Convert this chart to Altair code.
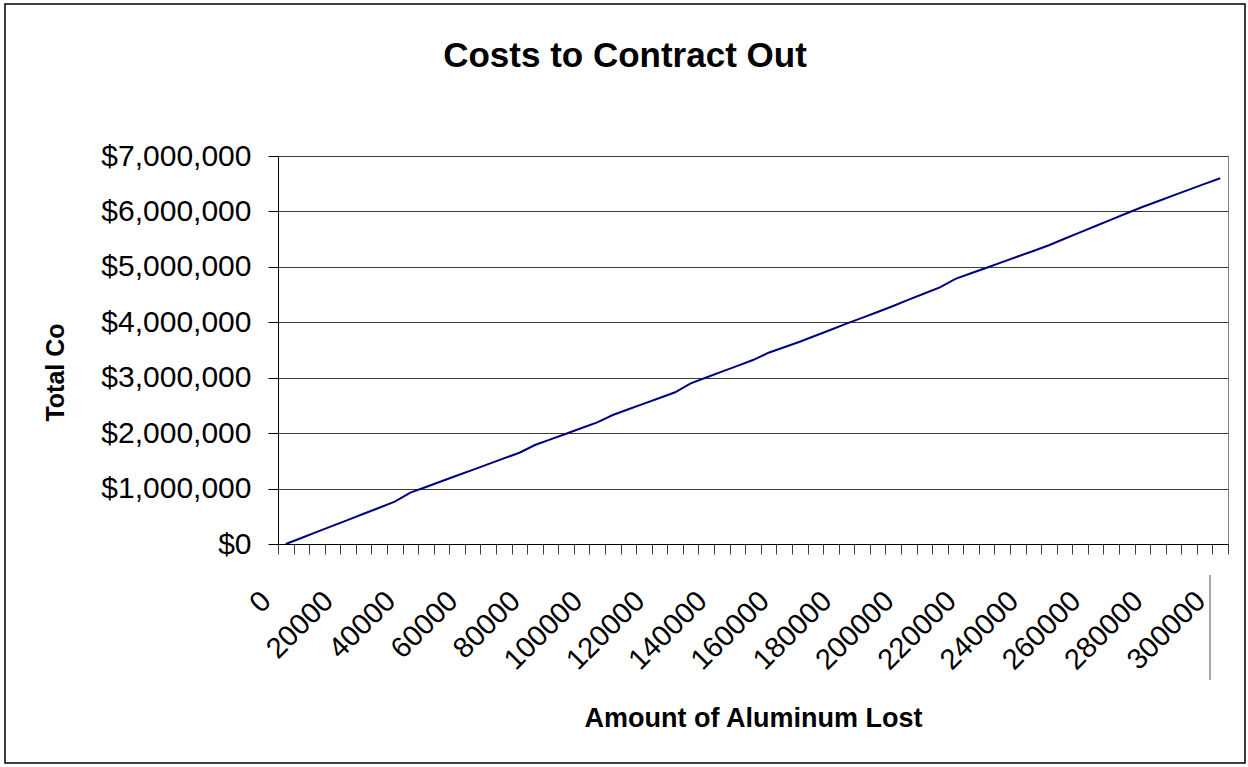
import altair as alt
import pandas as pd

# Amount of aluminum lost (categories, every 5,000 units)
amounts = list(range(0, 300001, 5000))

# Total cost to contract out for each amount, in dollars
costs = [
    0, 109000, 218000, 327000, 436000, 545000, 654000, 763000, 926000, 1029000,
    1132000, 1235000, 1338000, 1441000, 1544000, 1647000, 1786000, 1888000, 1990000, 2092000,
    2194000, 2327000, 2430000, 2532000, 2635000, 2737000, 2899000, 3004000, 3109000, 3214000,
    3319000, 3451000, 3550000, 3648000, 3757000, 3866000, 3975000, 4080000, 4186000, 4293000,
    4410000, 4520000, 4631000, 4783000, 4884000, 4985000, 5086000, 5187000, 5287000, 5390000,
    5507000, 5622000, 5737000, 5852000, 5967000, 6080000, 6184000, 6289000, 6393000, 6496000,
    6598000,
]

y_ticks = [0, 1000000, 2000000, 3000000, 4000000, 5000000, 6000000, 7000000]

chart_title = "Costs to Contract Out"

FONT = "Liberation Sans"
W, H = 950, 388
LEFT, TOP = 278, 156

df = pd.DataFrame({"amount": amounts, "cost": costs})
one = alt.Data(values=[{"title": chart_title}])

x_axis = alt.Axis(
    title="Amount of Aluminum Lost",
    titleFont=FONT, titleFontSize=27, titleFontWeight="bold", titleColor="black",
    titleX=W / 2, titleY=174, titleBaseline="middle", titleAlign="center",
    labelExpr="datum.value % 20000 === 0 ? datum.label : ''",
    labelAngle=-45, labelAlign="right", labelBaseline="middle",
    labelFont=FONT, labelFontSize=29, labelColor="black",
    labelOffset=-20, labelPadding=42, labelOverlap=False, labelBound=False, labelFlush=False,
    tickBand="extent", tickSize=10, tickColor="#404040", tickWidth=1,
    domainColor="black", domainWidth=1, grid=False,
)

y_axis = alt.Axis(
    title="Total Co",
    titleFont=FONT, titleFontSize=25, titleFontWeight="bold", titleColor="black",
    titleX=55 - LEFT, titleY=372 - TOP, titleAngle=-90, titleBaseline="middle", titleAlign="center",
    values=y_ticks, format="$,.0f",
    labelFont=FONT, labelFontSize=30, labelColor="black", labelPadding=17,
    tickSize=10, tickColor="black", tickWidth=1,
    domainColor="black", domainWidth=1,
    grid=True, gridColor="#3c3c3c", gridWidth=1,
)

line = alt.Chart(df).mark_line(color="#000080", strokeWidth=2).encode(
    x=alt.X("amount:O", axis=x_axis, bandPosition=0.5,
            scale=alt.Scale(type="band", paddingInner=0, paddingOuter=0)),
    y=alt.Y("cost:Q", axis=y_axis, scale=alt.Scale(domain=[0, 7000000], nice=False)),
)

# chart heading, centred on the whole chart area
heading = alt.Chart(one).mark_text(
    font=FONT, fontSize=35, fontWeight="bold", color="black",
    align="center", baseline="alphabetic",
).encode(
    text="title:N", x=alt.value(625 - LEFT), y=alt.value(67 - TOP),
)

# outer chart-area frame
frame = alt.Chart(one).mark_rect(filled=False, stroke="black", strokeWidth=1.5).encode(
    x=alt.value(5 - LEFT), x2=alt.value(1245 - LEFT),
    y=alt.value(4 - TOP), y2=alt.value(763 - TOP),
)

# thin separator beside the last category label
sep = alt.Chart(one).mark_rule(color="#a8a8a8", strokeWidth=2).encode(
    x=alt.value(1210 - LEFT), y=alt.value(575 - TOP), y2=alt.value(680 - TOP),
)

chart = alt.layer(line, heading, frame, sep).properties(
    width=W, height=H,
    autosize=alt.AutoSizeParams(type="none"),
    padding={"left": LEFT, "top": TOP, "right": 1248 - LEFT - W, "bottom": 767 - TOP - H},
    background="white",
).configure_view(stroke="#808080", strokeWidth=1)

chart.save("out.html", embed_options={"renderer": "svg", "actions": False})
